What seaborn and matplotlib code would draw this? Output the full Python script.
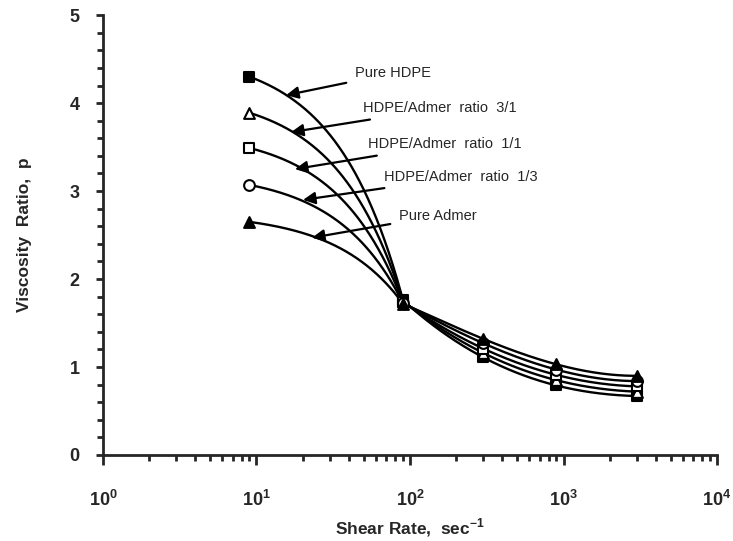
import numpy as np
import pandas as pd
import seaborn as sns
import matplotlib.pyplot as plt
from matplotlib.ticker import MultipleLocator, LogLocator, FuncFormatter

# shear rate (sec^-1) and viscosity ratio
shear_rate = [9, 90, 300, 900, 3000]
pure_hdpe = [4.30, 1.76, 1.11, 0.79, 0.67]
ratio_3_1 = [3.89, 1.75, 1.16, 0.85, 0.72]
ratio_1_1 = [3.49, 1.74, 1.21, 0.91, 0.78]
ratio_1_3 = [3.07, 1.73, 1.27, 0.97, 0.84]
pure_admer = [2.65, 1.72, 1.32, 1.03, 0.90]

names = ['Pure HDPE', 'HDPE/Admer  ratio  3/1', 'HDPE/Admer  ratio  1/1',
         'HDPE/Admer  ratio  1/3', 'Pure Admer']
series = [pure_hdpe, ratio_3_1, ratio_1_1, ratio_1_3, pure_admer]
markers = ['s', '^', 's', 'o', '^']
faces = ['black', 'white', 'white', 'white', 'black']

# label text position and arrow tip (data coords)
label_pos = [(43.8, 4.34), (49.4, 3.94), (53.3, 3.53), (67.7, 3.16), (84.8, 2.72)]
arrow_tip = [(15.6, 4.09), (16.8, 3.67), (17.8, 3.25), (20.1, 2.90), (23.0, 2.47)]

sns.set_style('ticks')
plt.rcParams['font.family'] = ['Liberation Sans', 'DejaVu Sans']
plt.rcParams['mathtext.fontset'] = 'custom'
plt.rcParams['mathtext.bf'] = 'Liberation Sans:bold'
plt.rcParams['mathtext.rm'] = 'Liberation Sans'

fig = plt.figure(figsize=(7.33, 5.41), dpi=100)
ax = fig.add_axes([0.1405, 0.159, 0.8377, 0.813])

# curve drawing: first leg joined linearly in shear rate (bends on the log axis),
# the rest a smooth curve through the points in log(shear rate)
left = np.logspace(np.log10(shear_rate[0]), np.log10(shear_rate[1]), 150)
right = np.linspace(np.log10(shear_rate[1]), np.log10(shear_rate[-1]), 250)
for name, vals, m, fc in zip(names, series, markers, faces):
    df = pd.DataFrame({'rate': shear_rate, 'ratio': vals})
    coef = np.polyfit(np.log10(shear_rate[1:]), vals[1:], 3)
    xs = np.concatenate([left, 10 ** right])
    ys = np.concatenate([np.interp(left, shear_rate, vals), np.polyval(coef, right)])
    ax.plot(xs, ys, color='black', lw=1.7, zorder=2)
    sns.scatterplot(data=df, x='rate', y='ratio', marker=m, s=60,
                    facecolor=fc, edgecolor='black', linewidth=1.5,
                    ax=ax, zorder=3, legend=False)

for name, tpos, tip in zip(names, label_pos, arrow_tip):
    ax.annotate(name, xy=tip, xytext=tpos, ha='left', va='center',
                fontsize=10.5,
                arrowprops=dict(arrowstyle='-|>', color='black', lw=1.6,
                                mutation_scale=18, shrinkA=4, shrinkB=0))

ax.set_xscale('log')
ax.set_xlim(1, 1e4)
ax.set_ylim(0, 5)
ax.yaxis.set_major_locator(MultipleLocator(1))
ax.yaxis.set_minor_locator(MultipleLocator(0.2))
ax.xaxis.set_major_locator(LogLocator(base=10, numticks=10))
ax.xaxis.set_minor_locator(LogLocator(base=10, subs=np.arange(2, 10), numticks=20))
ax.xaxis.set_major_formatter(FuncFormatter(
    lambda v, p: r'$\mathbf{10^{%d}}$' % round(np.log10(v))))

sns.despine(ax=ax)
for sp in ['left', 'bottom']:
    ax.spines[sp].set_linewidth(2)
ax.tick_params(which='major', length=7, width=2, labelsize=13, pad=18)
ax.tick_params(which='minor', length=4, width=2)
ax.tick_params(axis='y', which='major', length=5, pad=12)
for lab in ax.get_xticklabels() + ax.get_yticklabels():
    lab.set_fontweight('bold')

ax.set_xlabel(r'Shear Rate,  sec$^{\mathbf{-1}}$', fontsize=12.5,
              fontweight='bold', labelpad=5)
ax.set_ylabel('Viscosity  Ratio,  p', fontsize=12.5, fontweight='bold',
              labelpad=27)

plt.savefig('out.png', dpi=100)
